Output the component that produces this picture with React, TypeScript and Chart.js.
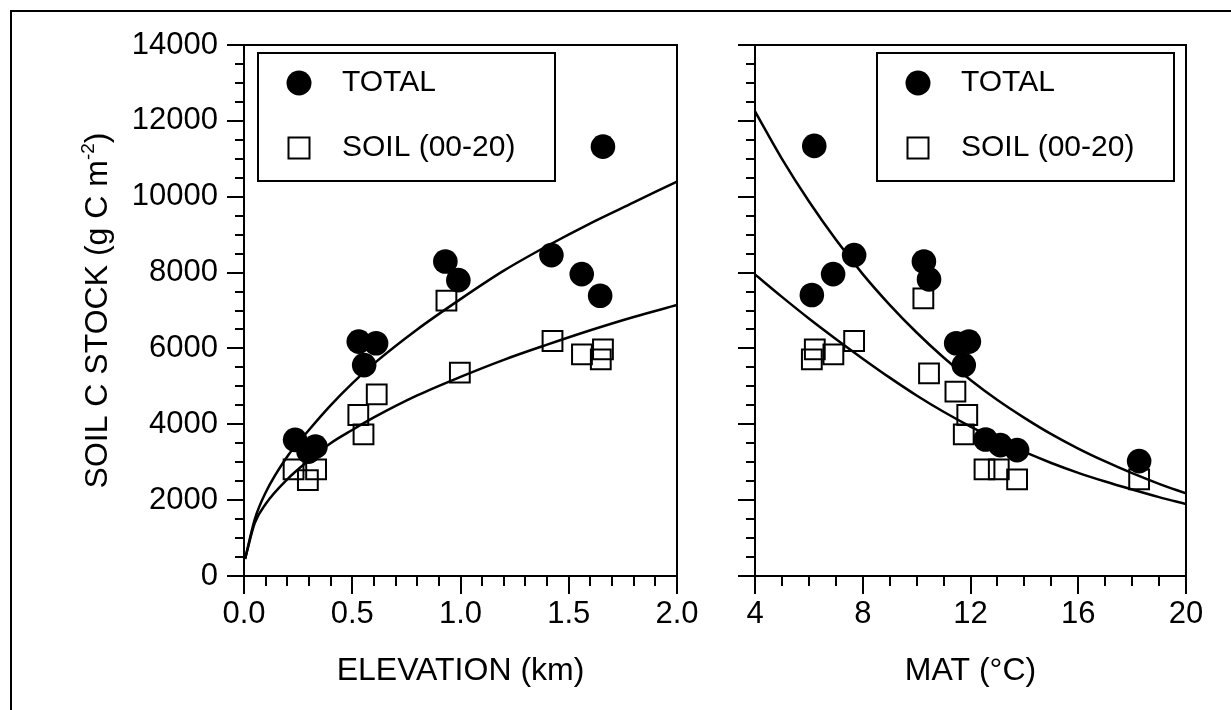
import React, { useEffect, useRef } from 'react';
import { Chart, registerables } from 'chart.js';

Chart.register(...registerables);

const FONT = "'Liberation Sans', Arial, Helvetica, sans-serif";

// ---- Left panel: elevation (km) ----
const elevTotalX = [0.236, 0.298, 0.33, 0.53, 0.555, 0.61, 0.93, 0.99, 1.42, 1.56, 1.645, 1.658];
const elevTotalY = [3590, 3280, 3410, 6180, 5560, 6135, 8290, 7800, 8460, 7960, 7390, 11320];
const elevSoilX = [0.229, 0.295, 0.333, 0.528, 0.552, 0.613, 0.935, 0.997, 1.425, 1.561, 1.648, 1.658];
const elevSoilY = [2810, 2530, 2810, 4245, 3735, 4790, 7260, 5360, 6196, 5845, 5713, 5977];
const elevCurveX = [0.005, 0.05, 0.1, 0.2, 0.3, 0.4, 0.5, 0.6, 0.8, 1.0, 1.2, 1.4, 1.6, 1.8, 2.0];
const elevTotalCurveY = [450, 1500, 2200, 3150, 3850, 4500, 5080, 5600, 6500, 7300, 8050, 8700, 9300, 9850, 10400];
const elevSoilCurveY = [450, 1400, 1900, 2550, 3050, 3500, 3850, 4180, 4760, 5250, 5700, 6100, 6480, 6830, 7145];

// ---- Right panel: MAT (°C) ----
const matTotalX = [6.11, 6.2, 6.9, 7.68, 10.27, 10.46, 11.47, 11.75, 11.94, 12.56, 13.11, 13.73, 18.26];
const matTotalY = [7410, 11340, 7960, 8460, 8290, 7820, 6135, 5560, 6180, 3600, 3450, 3320, 3030];
const matSoilX = [6.11, 6.22, 6.91, 7.68, 10.25, 10.46, 11.44, 11.75, 11.88, 12.52, 13.05, 13.73, 18.26];
const matSoilY = [5713, 5977, 5845, 6196, 7322, 5344, 4860, 3736, 4245, 2813, 2813, 2549, 2549];
const matCurveX = [4, 5, 6, 7, 8, 9, 10, 11, 12, 13, 14, 15, 16, 17, 18, 19, 20];
const matTotalCurveY = [12250, 11000, 9880, 8870, 7960, 7150, 6420, 5760, 5170, 4640, 4170, 3740, 3360, 3020, 2710, 2430, 2180];
const matSoilCurveY = [7950, 7360, 6790, 6250, 5730, 5230, 4760, 4330, 3940, 3590, 3270, 2980, 2720, 2490, 2280, 2080, 1900];

// ---- Ticks & labels ----
const yTicks = [0, 2000, 4000, 6000, 8000, 10000, 12000, 14000];
const yTickLabels = ['0', '2000', '4000', '6000', '8000', '10000', '12000', '14000'];
const elevTicks = [0, 0.5, 1.0, 1.5, 2.0];
const elevTickLabels = ['0.0', '0.5', '1.0', '1.5', '2.0'];
const matTicks = [4, 8, 12, 16, 20];
const matTickLabels = ['4', '8', '12', '16', '20'];

const legendLabels = ['TOTAL', 'SOIL (00-20)'];
const yTitleMain = 'SOIL C STOCK (g C m';
const yTitleSup = '-2';
const yTitleEnd = ')';
const elevTitle = 'ELEVATION (km)';
const matTitle = 'MAT (°C)';

const zip = (xs: number[], ys: number[]) => xs.map((x, i) => ({ x, y: ys[i] }));

const decorPlugin = {
  id: 'panelDecor',
  afterDraw(chart: any, _args: any, opts: any) {
    const ctx = chart.ctx as CanvasRenderingContext2D;
    const { left, right, top, bottom } = chart.chartArea;
    const xs = chart.scales.x;
    const ys = chart.scales.y;
    ctx.save();
    ctx.strokeStyle = '#000';
    ctx.fillStyle = '#000';
    ctx.lineWidth = 2;
    ctx.lineCap = 'butt';

    // ticks
    ctx.beginPath();
    for (let i = 0; ; i++) {
      const v = xs.min + i * opts.xMinorStep;
      if (v > xs.max + 1e-6) break;
      const major = opts.xMajor.some((m: number) => Math.abs(m - v) < 1e-6);
      const px = Math.round(xs.getPixelForValue(v));
      ctx.moveTo(px, bottom);
      ctx.lineTo(px, bottom + (major ? 18 : 10));
    }
    for (let i = 0; ; i++) {
      const v = ys.min + i * opts.yMinorStep;
      if (v > ys.max + 1e-6) break;
      const major = yTicks.some((m) => Math.abs(m - v) < 1e-6);
      const py = Math.round(ys.getPixelForValue(v));
      ctx.moveTo(left, py);
      ctx.lineTo(left - (major ? 17 : 9), py);
    }
    ctx.stroke();

    // frame
    ctx.strokeRect(left, top, right - left, bottom - top);

    // legend
    const bw = 297, bh = 128;
    const bx = opts.legendSide === 'left' ? left + 14 : right - 12 - bw;
    const by = top + 8;
    ctx.fillStyle = '#fff';
    ctx.fillRect(bx, by, bw, bh);
    ctx.strokeRect(bx, by, bw, bh);
    ctx.fillStyle = '#000';
    ctx.font = `30px ${FONT}`;
    ctx.textBaseline = 'middle';
    ctx.textAlign = 'left';
    const rows = [by + 30, by + 95];
    const ds = chart.data.datasets;
    ctx.beginPath();
    ctx.arc(bx + 41, rows[0], 12.5, 0, Math.PI * 2);
    ctx.fill();
    ctx.fillText(ds[0].label, bx + 84, rows[0]);
    ctx.strokeRect(bx + 41 - 10.5, rows[1] - 10.5, 21, 21);
    ctx.fillText(ds[1].label, bx + 84, rows[1]);

    // y title (left panel only)
    if (opts.yTitle) {
      ctx.save();
      ctx.translate(107, (top + bottom) / 2);
      ctx.rotate(-Math.PI / 2);
      ctx.textBaseline = 'alphabetic';
      const mainFont = `32px ${FONT}`;
      const supFont = `19px ${FONT}`;
      ctx.font = mainFont;
      const w1 = ctx.measureText(yTitleMain).width;
      const w3 = ctx.measureText(yTitleEnd).width;
      ctx.font = supFont;
      const w2 = ctx.measureText(yTitleSup).width;
      const total = w1 + w2 + w3;
      let u = -total / 2;
      ctx.font = mainFont;
      ctx.fillText(yTitleMain, u, 0);
      u += w1;
      ctx.font = supFont;
      ctx.fillText(yTitleSup, u, -13);
      u += w2;
      ctx.font = mainFont;
      ctx.fillText(yTitleEnd, u, 0);
      ctx.restore();
    }
    ctx.restore();
  },
};

type Panel = {
  totalX: number[]; totalY: number[]; soilX: number[]; soilY: number[];
  curveX: number[]; totalCurveY: number[]; soilCurveY: number[];
  xMin: number; xMax: number; xTicks: number[]; xTickLabels: string[]; xTitle: string;
  xMinorStep: number; yWidth: number; padRight: number; showYLabels: boolean;
  legendSide: 'left' | 'right'; yTitle: boolean;
};

function buildConfig(p: Panel): any {
  return {
    type: 'scatter',
    data: {
      datasets: [
        {
          label: legendLabels[0], data: zip(p.totalX, p.totalY),
          pointStyle: 'circle', pointRadius: 12.3, pointBackgroundColor: '#000',
          pointBorderColor: '#000', pointBorderWidth: 0,
        },
        {
          label: legendLabels[1], data: zip(p.soilX, p.soilY),
          pointStyle: 'rect', pointRadius: 14, pointBackgroundColor: 'rgba(0,0,0,0)',
          pointBorderColor: '#000', pointBorderWidth: 2,
        },
        {
          type: 'line', label: 'TOTAL fit', data: zip(p.curveX, p.totalCurveY),
          pointRadius: 0, borderColor: '#000', borderWidth: 2.5, fill: false,
          cubicInterpolationMode: 'monotone',
        },
        {
          type: 'line', label: 'SOIL fit', data: zip(p.curveX, p.soilCurveY),
          pointRadius: 0, borderColor: '#000', borderWidth: 2.5, fill: false,
          cubicInterpolationMode: 'monotone',
        },
      ],
    },
    options: {
      responsive: false,
      animation: false,
      events: [],
      layout: { padding: { left: 0, top: 45, right: p.padRight, bottom: 0 } },
      plugins: {
        legend: { display: false },
        tooltip: { enabled: false },
        panelDecor: {
          xMinorStep: p.xMinorStep, yMinorStep: 500, xMajor: p.xTicks,
          legendSide: p.legendSide, yTitle: p.yTitle,
        },
      },
      scales: {
        x: {
          type: 'linear', min: p.xMin, max: p.xMax,
          afterBuildTicks: (s: any) => { s.ticks = p.xTicks.map((v) => ({ value: v })); },
          afterFit: (s: any) => { s.height = 134; s.paddingLeft = 0; s.paddingRight = 0; },
          grid: { display: false, drawTicks: false },
          border: { display: false },
          ticks: {
            callback: (_v: any, i: number) => p.xTickLabels[i],
            font: { family: FONT, size: 31 }, color: '#000', padding: 20,
            maxRotation: 0, autoSkip: false,
          },
          title: {
            display: true, text: p.xTitle, color: '#000',
            font: { family: FONT, size: 32 }, padding: { top: 0, bottom: 20 },
          },
        },
        y: {
          type: 'linear', min: 0, max: 14000,
          afterBuildTicks: (s: any) => { s.ticks = yTicks.map((v) => ({ value: v })); },
          afterFit: (s: any) => { s.width = p.yWidth; s.paddingTop = 0; s.paddingBottom = 0; },
          grid: { display: false, drawTicks: false },
          border: { display: false },
          ticks: {
            display: p.showYLabels,
            callback: (_v: any, i: number) => yTickLabels[i],
            font: { family: FONT, size: 31 }, color: '#000', padding: 26,
          },
        },
      },
    },
    plugins: [decorPlugin],
  };
}

export default function App() {
  const leftRef = useRef<HTMLCanvasElement>(null);
  const rightRef = useRef<HTMLCanvasElement>(null);

  useEffect(() => {
    const left = new Chart(leftRef.current as HTMLCanvasElement, buildConfig({
      totalX: elevTotalX, totalY: elevTotalY, soilX: elevSoilX, soilY: elevSoilY,
      curveX: elevCurveX, totalCurveY: elevTotalCurveY, soilCurveY: elevSoilCurveY,
      xMin: 0, xMax: 2, xTicks: elevTicks, xTickLabels: elevTickLabels, xTitle: elevTitle,
      xMinorStep: 0.1, yWidth: 244, padRight: 23, showYLabels: true,
      legendSide: 'left', yTitle: true,
    }));
    const right = new Chart(rightRef.current as HTMLCanvasElement, buildConfig({
      totalX: matTotalX, totalY: matTotalY, soilX: matSoilX, soilY: matSoilY,
      curveX: matCurveX, totalCurveY: matTotalCurveY, soilCurveY: matSoilCurveY,
      xMin: 4, xMax: 20, xTicks: matTicks, xTickLabels: matTickLabels, xTitle: matTitle,
      xMinorStep: 1, yWidth: 55, padRight: 45, showYLabels: false,
      legendSide: 'right', yTitle: false,
    }));
    return () => { left.destroy(); right.destroy(); };
  }, []);

  return (
    <div style={{ position: 'absolute', left: 0, top: 0, width: 1231, height: 710, background: '#fff', overflow: 'hidden' }}>
      <div style={{ position: 'absolute', left: 10, top: 10, width: 1231, height: 710, borderTop: '2px solid #000', borderLeft: '2px solid #000' }} />
      <canvas ref={leftRef} width={700} height={710} style={{ position: 'absolute', left: 0, top: 0 }} />
      <canvas ref={rightRef} width={531} height={710} style={{ position: 'absolute', left: 700, top: 0 }} />
    </div>
  );
}
